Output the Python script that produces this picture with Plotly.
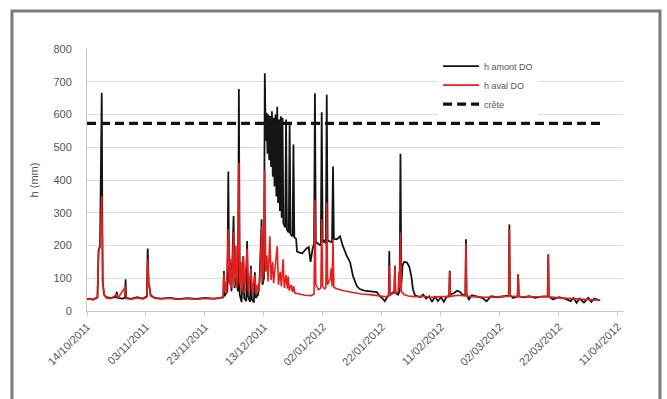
import plotly.graph_objects as go

# ---------------- data ----------------
amont_dates = [
    "2011-10-14 00:00", "2011-10-15 00:00", "2011-10-16 00:00", "2011-10-17 00:00", "2011-10-17 14:00",
    "2011-10-17 22:00", "2011-10-18 10:00", "2011-10-19 00:00", "2011-10-19 07:00", "2011-10-19 19:00",
    "2011-10-20 12:00", "2011-10-22 00:00", "2011-10-23 19:00", "2011-10-24 02:00", "2011-10-24 10:00",
    "2011-10-26 00:00", "2011-10-26 22:00", "2011-10-27 02:00", "2011-10-27 07:00", "2011-10-29 00:00",
    "2011-10-31 00:00", "2011-11-02 00:00", "2011-11-03 07:00", "2011-11-03 14:00", "2011-11-03 22:00",
    "2011-11-04 05:00", "2011-11-04 14:00", "2011-11-06 00:00", "2011-11-08 00:00", "2011-11-11 00:00",
    "2011-11-14 00:00", "2011-11-17 00:00", "2011-11-20 00:00", "2011-11-23 00:00", "2011-11-26 00:00",
    "2011-11-28 00:00", "2011-11-29 05:00", "2011-11-29 10:00", "2011-11-29 14:00", "2011-11-30 14:00",
    "2011-11-30 22:00", "2011-12-01 05:00", "2011-12-01 14:00", "2011-12-02 00:00", "2011-12-02 17:00",
    "2011-12-03 00:00", "2011-12-03 12:00", "2011-12-04 05:00", "2011-12-04 12:00", "2011-12-04 19:00",
    "2011-12-05 10:00", "2011-12-06 00:00", "2011-12-06 07:00", "2011-12-07 00:00", "2011-12-07 07:00",
    "2011-12-07 14:00", "2011-12-08 07:00", "2011-12-08 14:00", "2011-12-08 22:00", "2011-12-09 14:00",
    "2011-12-09 22:00", "2011-12-10 05:00", "2011-12-11 00:00", "2011-12-11 12:00", "2011-12-12 05:00",
    "2011-12-12 12:00", "2011-12-13 00:00", "2011-12-13 07:00", "2011-12-13 14:00", "2011-12-13 22:00",
    "2011-12-14 05:00", "2011-12-14 12:00", "2011-12-14 19:00", "2011-12-15 02:00", "2011-12-15 10:00",
    "2011-12-15 17:00", "2011-12-16 00:00", "2011-12-16 07:00", "2011-12-16 14:00", "2011-12-16 22:00",
    "2011-12-17 05:00", "2011-12-17 12:00", "2011-12-17 19:00", "2011-12-18 02:00", "2011-12-18 10:00",
    "2011-12-18 17:00", "2011-12-19 00:00", "2011-12-19 07:00", "2011-12-19 14:00", "2011-12-20 05:00",
    "2011-12-20 12:00", "2011-12-20 19:00", "2011-12-21 10:00", "2011-12-21 17:00", "2011-12-22 00:00",
    "2011-12-22 17:00", "2011-12-23 00:00", "2011-12-23 07:00", "2011-12-23 22:00", "2011-12-24 05:00",
    "2011-12-25 00:00", "2011-12-26 00:00", "2011-12-26 19:00", "2011-12-27 12:00", "2011-12-28 05:00",
    "2011-12-28 19:00", "2011-12-29 12:00", "2011-12-30 00:00", "2011-12-30 07:00", "2011-12-30 14:00",
    "2011-12-31 10:00", "2012-01-01 07:00", "2012-01-01 14:00", "2012-01-01 22:00", "2012-01-02 14:00",
    "2012-01-03 00:00", "2012-01-03 07:00", "2012-01-03 14:00", "2012-01-04 12:00", "2012-01-05 02:00",
    "2012-01-05 10:00", "2012-01-05 17:00", "2012-01-06 17:00", "2012-01-07 19:00", "2012-01-08 19:00",
    "2012-01-10 00:00", "2012-01-11 05:00", "2012-01-12 05:00", "2012-01-13 12:00", "2012-01-14 12:00",
    "2012-01-16 00:00", "2012-01-18 00:00", "2012-01-20 07:00", "2012-01-21 07:00", "2012-01-22 00:00",
    "2012-01-23 00:00", "2012-01-24 00:00", "2012-01-24 07:00", "2012-01-24 12:00", "2012-01-24 17:00",
    "2012-01-25 12:00", "2012-01-26 05:00", "2012-01-26 10:00", "2012-01-26 14:00", "2012-01-27 12:00",
    "2012-01-28 00:00", "2012-01-28 07:00", "2012-01-28 14:00", "2012-01-29 00:00", "2012-01-29 14:00",
    "2012-01-30 12:00", "2012-01-31 07:00", "2012-02-01 00:00", "2012-02-01 12:00", "2012-02-02 05:00",
    "2012-02-04 00:00", "2012-02-05 00:00", "2012-02-06 00:00", "2012-02-07 00:00", "2012-02-08 00:00",
    "2012-02-09 00:00", "2012-02-10 00:00", "2012-02-11 00:00", "2012-02-12 00:00", "2012-02-13 00:00",
    "2012-02-13 19:00", "2012-02-14 00:00", "2012-02-14 05:00", "2012-02-15 12:00", "2012-02-16 12:00",
    "2012-02-17 12:00", "2012-02-18 12:00", "2012-02-19 07:00", "2012-02-19 12:00", "2012-02-19 17:00",
    "2012-02-20 12:00", "2012-02-21 12:00", "2012-02-23 00:00", "2012-02-25 00:00", "2012-02-26 12:00",
    "2012-02-28 00:00", "2012-03-01 00:00", "2012-03-03 00:00", "2012-03-05 00:00", "2012-03-05 05:00",
    "2012-03-05 10:00", "2012-03-06 12:00", "2012-03-08 00:00", "2012-03-08 05:00", "2012-03-08 10:00",
    "2012-03-10 00:00", "2012-03-12 00:00", "2012-03-14 00:00", "2012-03-16 00:00", "2012-03-18 05:00",
    "2012-03-18 10:00", "2012-03-18 14:00", "2012-03-20 00:00", "2012-03-22 00:00", "2012-03-24 00:00",
    "2012-03-26 00:00", "2012-03-27 00:00", "2012-03-28 00:00", "2012-03-29 00:00", "2012-03-30 12:00",
    "2012-04-01 00:00", "2012-04-02 00:00", "2012-04-03 00:00", "2012-04-04 00:00", "2012-04-05 00:00",
]
amont_values = [
    36, 38, 35, 40, 42,
    185, 200, 666, 90, 50,
    42, 40, 42, 58, 40,
    38, 40, 97, 40, 37,
    42, 38, 45, 191, 80,
    73, 48, 40, 38, 40,
    36, 39, 37, 40, 38,
    40, 42, 122, 45, 60,
    426, 90, 150, 60, 290,
    70, 100, 60, 678, 50,
    27, 168, 40, 30, 214,
    45, 28, 138, 35, 26,
    118, 40, 50, 90, 280,
    80, 100, 726, 520, 605,
    480, 600, 460, 595, 440,
    610, 410, 590, 380, 600,
    350, 624, 330, 585, 305,
    595, 285, 590, 268, 255,
    585, 248, 240, 575, 235,
    228, 508, 225, 220, 182,
    178, 176, 185, 192, 195,
    150, 190, 205, 665, 210,
    205, 200, 607, 210, 215,
    205, 660, 215, 212, 210,
    441, 220, 219, 228, 198,
    170, 149, 106, 76, 67,
    62, 60, 58, 45, 40,
    30, 45, 50, 183, 48,
    55, 60, 138, 55, 50,
    60, 480, 80, 140, 150,
    148, 135, 105, 67, 48,
    42, 50, 38, 45, 28,
    45, 30, 42, 28, 44,
    45, 123, 50, 55, 62,
    58, 48, 50, 219, 50,
    35, 48, 45, 40, 30,
    45, 42, 45, 47, 264,
    48, 40, 45, 112, 45,
    42, 45, 40, 44, 45,
    173, 45, 35, 42, 38,
    30, 40, 25, 38, 26,
    40, 28, 38, 35, 32,
]

aval_dates = [
    "2011-10-14 00:00", "2011-10-15 00:00", "2011-10-16 00:00", "2011-10-17 00:00", "2011-10-17 12:00",
    "2011-10-17 22:00", "2011-10-18 10:00", "2011-10-19 00:00", "2011-10-19 10:00", "2011-10-19 22:00",
    "2011-10-20 12:00", "2011-10-22 00:00", "2011-10-24 02:00", "2011-10-24 10:00", "2011-10-27 02:00",
    "2011-10-27 07:00", "2011-10-29 00:00", "2011-10-31 00:00", "2011-11-02 00:00", "2011-11-03 07:00",
    "2011-11-03 14:00", "2011-11-03 22:00", "2011-11-04 05:00", "2011-11-04 14:00", "2011-11-06 00:00",
    "2011-11-08 00:00", "2011-11-11 00:00", "2011-11-14 00:00", "2011-11-17 00:00", "2011-11-20 00:00",
    "2011-11-23 00:00", "2011-11-26 00:00", "2011-11-28 00:00", "2011-11-29 05:00", "2011-11-29 10:00",
    "2011-11-29 14:00", "2011-11-30 00:00", "2011-11-30 07:00", "2011-11-30 22:00", "2011-12-01 05:00",
    "2011-12-01 14:00", "2011-12-01 22:00", "2011-12-02 07:00", "2011-12-02 17:00", "2011-12-03 00:00",
    "2011-12-03 12:00", "2011-12-03 19:00", "2011-12-04 02:00", "2011-12-04 12:00", "2011-12-04 19:00",
    "2011-12-05 05:00", "2011-12-05 14:00", "2011-12-06 00:00", "2011-12-06 10:00", "2011-12-06 19:00",
    "2011-12-07 07:00", "2011-12-07 17:00", "2011-12-08 05:00", "2011-12-08 14:00", "2011-12-09 00:00",
    "2011-12-09 12:00", "2011-12-09 22:00", "2011-12-10 07:00", "2011-12-10 19:00", "2011-12-11 07:00",
    "2011-12-11 19:00", "2011-12-12 05:00", "2011-12-12 12:00", "2011-12-12 22:00", "2011-12-13 07:00",
    "2011-12-13 14:00", "2011-12-14 00:00", "2011-12-14 10:00", "2011-12-15 00:00", "2011-12-15 10:00",
    "2011-12-15 22:00", "2011-12-16 07:00", "2011-12-16 19:00", "2011-12-17 12:00", "2011-12-17 22:00",
    "2011-12-18 12:00", "2011-12-18 22:00", "2011-12-19 12:00", "2011-12-19 22:00", "2011-12-20 12:00",
    "2011-12-20 22:00", "2011-12-21 05:00", "2011-12-21 14:00", "2011-12-22 05:00", "2011-12-22 17:00",
    "2011-12-23 02:00", "2011-12-23 12:00", "2011-12-25 00:00", "2011-12-27 00:00", "2011-12-29 00:00",
    "2011-12-30 00:00", "2011-12-30 07:00", "2011-12-30 14:00", "2011-12-31 12:00", "2012-01-01 07:00",
    "2012-01-01 14:00", "2012-01-01 22:00", "2012-01-02 14:00", "2012-01-03 00:00", "2012-01-03 07:00",
    "2012-01-03 14:00", "2012-01-04 12:00", "2012-01-04 19:00", "2012-01-05 02:00", "2012-01-05 10:00",
    "2012-01-05 17:00", "2012-01-07 00:00", "2012-01-09 00:00", "2012-01-12 00:00", "2012-01-15 00:00",
    "2012-01-18 00:00", "2012-01-21 00:00", "2012-01-23 00:00", "2012-01-24 07:00", "2012-01-24 12:00",
    "2012-01-24 17:00", "2012-01-26 05:00", "2012-01-26 10:00", "2012-01-26 14:00", "2012-01-27 12:00",
    "2012-01-27 19:00", "2012-01-28 00:00", "2012-01-28 07:00", "2012-01-28 14:00", "2012-01-29 12:00",
    "2012-01-31 00:00", "2012-02-02 00:00", "2012-02-05 00:00", "2012-02-08 00:00", "2012-02-11 00:00",
    "2012-02-13 19:00", "2012-02-14 00:00", "2012-02-14 05:00", "2012-02-17 00:00", "2012-02-19 07:00",
    "2012-02-19 12:00", "2012-02-19 17:00", "2012-02-22 00:00", "2012-02-26 00:00", "2012-03-01 00:00",
    "2012-03-05 00:00", "2012-03-05 05:00", "2012-03-05 10:00", "2012-03-08 00:00", "2012-03-08 05:00",
    "2012-03-08 10:00", "2012-03-12 00:00", "2012-03-15 00:00", "2012-03-18 05:00", "2012-03-18 10:00",
    "2012-03-18 14:00", "2012-03-22 00:00", "2012-03-26 00:00", "2012-03-30 00:00", "2012-04-02 00:00",
    "2012-04-05 00:00",
]
aval_values = [
    35, 37, 34, 38, 40,
    180, 195, 350, 80, 48,
    40, 38, 50, 38, 75,
    38, 36, 40, 37, 42,
    158, 78, 70, 46, 39,
    37, 39, 35, 38, 36,
    38, 37, 39, 41, 115,
    60, 90, 55, 250, 80,
    160, 70, 130, 240, 75,
    200, 70, 120, 453, 80,
    150, 60, 168, 55, 120,
    190, 60, 100, 130, 55,
    90, 110, 50, 80, 60,
    140, 259, 90, 150, 432,
    120, 170, 90, 228, 95,
    150, 85, 130, 198, 80,
    120, 75, 158, 70, 110,
    68, 106, 62, 80, 58,
    76, 55, 52, 48, 47,
    52, 340, 80, 65, 70,
    280, 75, 68, 72, 331,
    80, 100, 130, 75, 219,
    72, 67, 62, 56, 52,
    50, 46, 44, 45, 140,
    50, 55, 138, 55, 60,
    120, 70, 240, 60, 50,
    46, 44, 45, 42, 44,
    44, 118, 45, 48, 46,
    205, 46, 44, 42, 43,
    45, 250, 46, 44, 108,
    44, 43, 42, 43, 170,
    43, 40, 38, 36, 35,
    33,
]

crete_dates = ["2011-10-14 00:00", "2012-04-05 00:00"]
crete_values = [573, 573]

tick_dates = ["2011-10-14", "2011-11-03", "2011-11-23", "2011-12-13", "2012-01-02",
              "2012-01-22", "2012-02-11", "2012-03-02", "2012-03-22", "2012-04-11"]
tick_labels = ["14/10/2011", "03/11/2011", "23/11/2011", "13/12/2011", "02/01/2012",
               "22/01/2012", "11/02/2012", "02/03/2012", "22/03/2012", "11/04/2012"]

series_names = ["h amont DO", "h aval DO", "crête"]

# ---------------- figure ----------------
fig = go.Figure()
fig.add_trace(go.Scatter(x=amont_dates, y=amont_values, mode="lines", name=series_names[0],
                         line=dict(color="#141414", width=1.8)))
fig.add_trace(go.Scatter(x=aval_dates, y=aval_values, mode="lines", name=series_names[1],
                         line=dict(color="#e3201e", width=1.6)))
fig.add_trace(go.Scatter(x=crete_dates, y=crete_values, mode="lines", name=series_names[2],
                         line=dict(color="#111111", width=3.2, dash="9px,5px")))

font_fam = "Liberation Sans, Arial, sans-serif"
fig.update_layout(
    width=667, height=399,
    margin=dict(l=87, r=44, t=49, b=88),
    paper_bgcolor="white", plot_bgcolor="white",
    font=dict(family=font_fam, color="#555555", size=10),
    showlegend=True,
    legend=dict(x=0.655, y=0.99, xanchor="left", yanchor="top",
                bgcolor="white", font=dict(size=9, color="#555555"),
                tracegroupgap=0, itemwidth=36),
    xaxis=dict(
        type="date",
        range=["2011-10-14 00:00", "2012-04-12 18:00"],
        tickmode="array", tickvals=tick_dates, ticktext=tick_labels,
        tickangle=-45, tickfont=dict(size=11, color="#555555"),
        showgrid=False, zeroline=False,
        showline=True, linecolor="#c8c8c8", linewidth=1,
        ticks="outside", ticklen=4, tickcolor="#c8c8c8",
    ),
    yaxis=dict(
        range=[0, 800], dtick=100, tick0=0,
        tickfont=dict(size=11, color="#555555"),
        showgrid=True, gridcolor="#dcdcdc", gridwidth=1,
        zeroline=False, showline=True, linecolor="#c8c8c8", linewidth=1,
        ticks="", ticklabelstandoff=12,
        title=dict(text="h (mm)", font=dict(size=11, color="#555555"), standoff=12),
    ),
    shapes=[dict(type="rect", xref="paper", yref="paper",
                 x0=-0.140, x1=1.069, y0=-0.40, y1=1.145,
                 line=dict(color="#7a7a7a", width=3), fillcolor="rgba(0,0,0,0)", layer="below")],
)

fig.write_html("out.html")
